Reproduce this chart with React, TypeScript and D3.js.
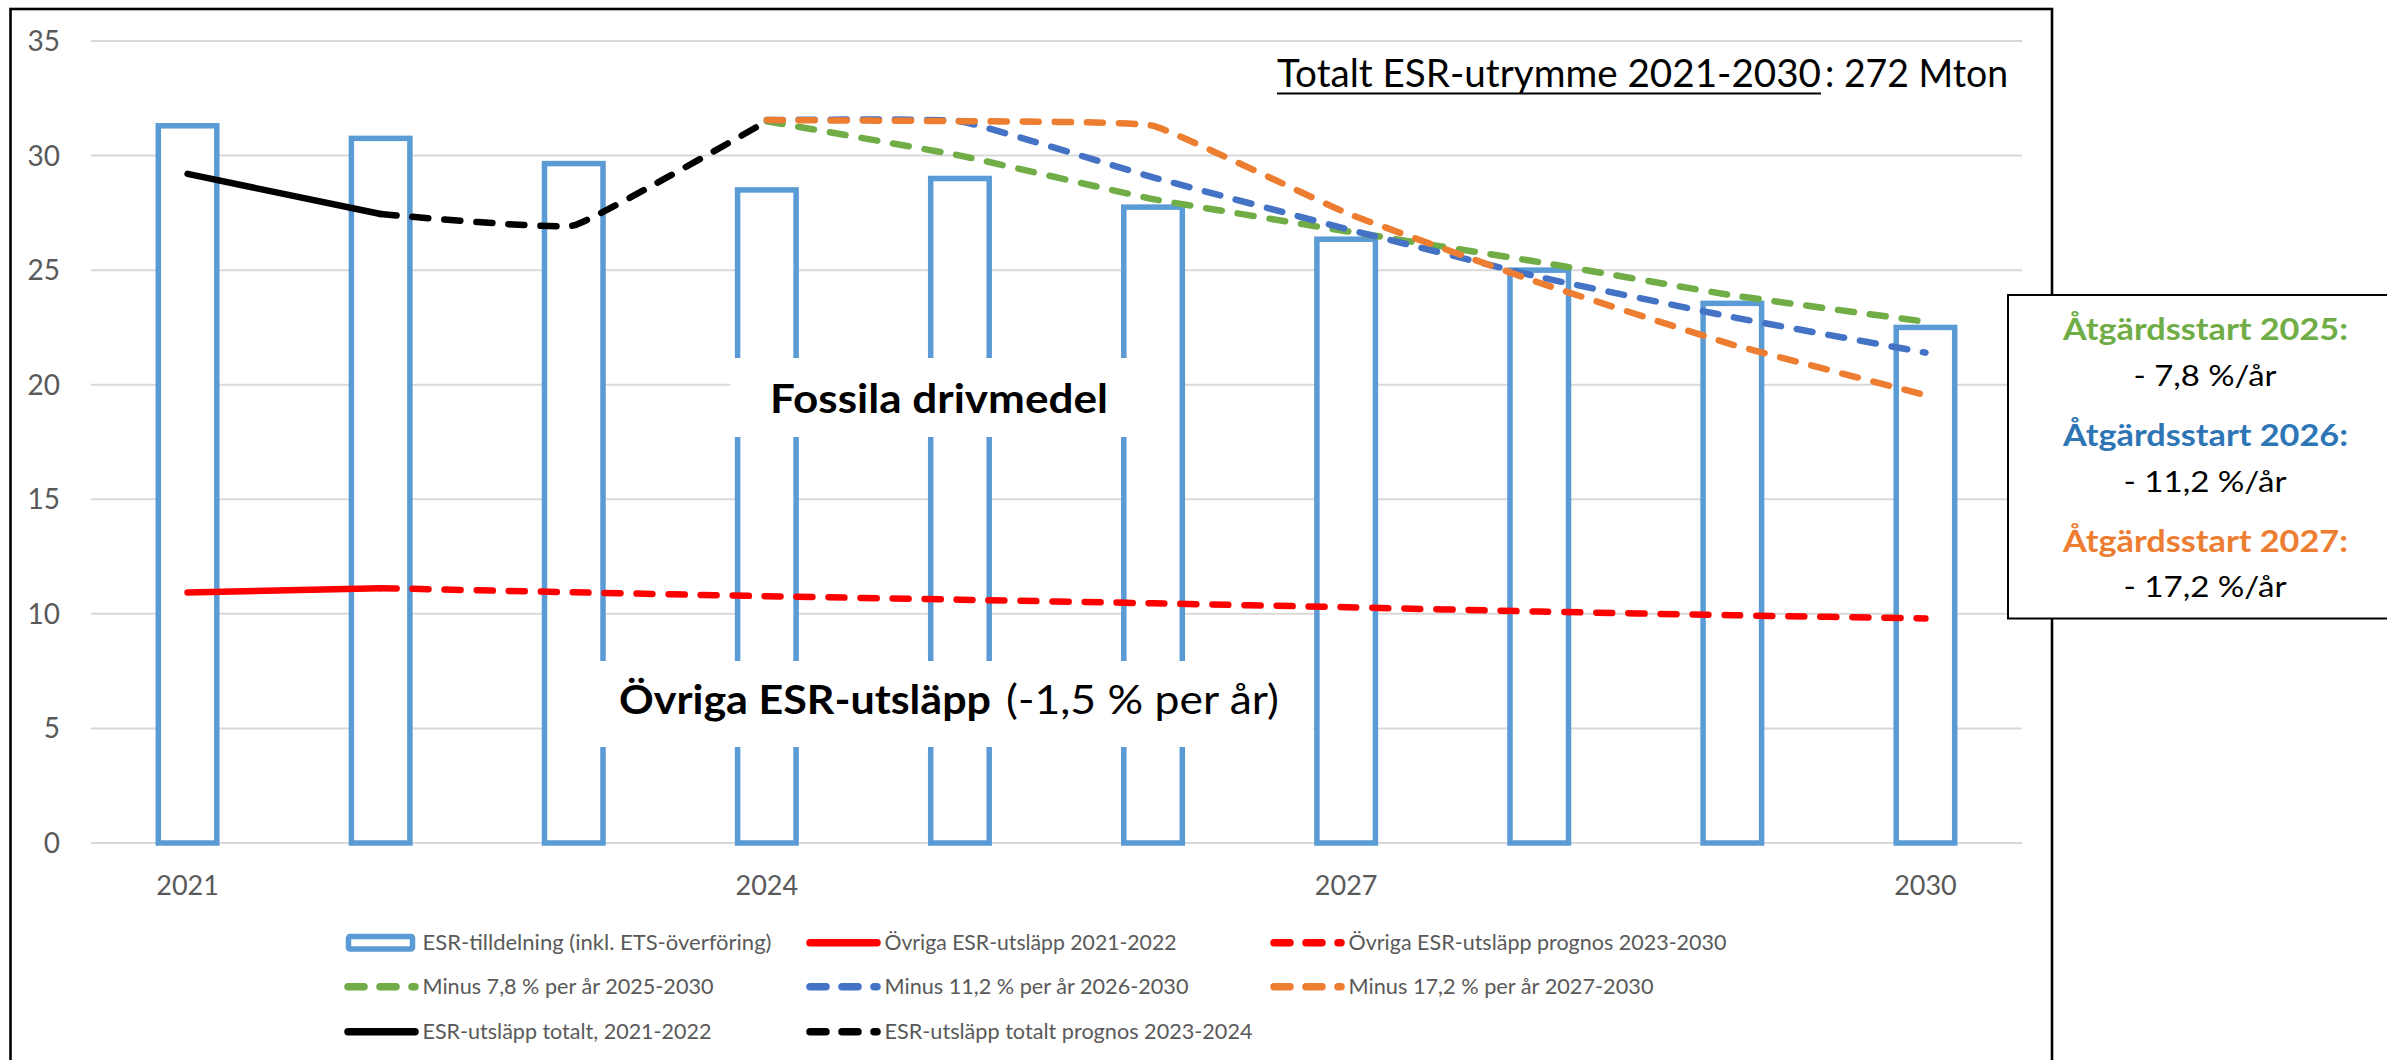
import React from "react";
import * as d3 from "d3";

// ---------- data ----------
const years = [2021, 2022, 2023, 2024, 2025, 2026, 2027, 2028, 2029, 2030];
const esrAllocation = [31.3, 30.75, 29.65, 28.5, 29.0, 27.75, 26.35, 25.0, 23.55, 22.5];

const otherActualYears = [2021, 2022];
const otherActual = [10.93, 11.12];
const otherForecastYears = [2022, 2023, 2024, 2025, 2026, 2027, 2028, 2029, 2030];
const otherForecast = [11.12, 10.94, 10.77, 10.62, 10.46, 10.29, 10.1, 9.94, 9.8];

const totalActualYears = [2021, 2022];
const totalActual = [29.2, 27.45];
const totalForecastYears = [2022, 2023, 2024];
const totalForecast = [27.45, 26.95, 31.5];

const pathYears = [2024, 2025, 2026, 2027, 2028, 2029, 2030];
const minus78 = [31.5, 30.0, 28.1, 26.7, 25.35, 23.9, 22.75];
const minus112 = [31.55, 31.5, 29.05, 26.8, 24.7, 22.95, 21.4];
const minus172 = [31.55, 31.5, 31.3, 27.5, 24.45, 21.75, 19.55];

const yTicks = [0, 5, 10, 15, 20, 25, 30, 35];
const xTickYears = [2021, 2024, 2027, 2030];

const legendLabels = [
  "ESR-tilldelning (inkl. ETS-överföring)",
  "Övriga ESR-utsläpp 2021-2022",
  "Övriga ESR-utsläpp prognos 2023-2030",
  "Minus 7,8 % per år 2025-2030",
  "Minus 11,2 % per år 2026-2030",
  "Minus 17,2 % per år 2027-2030",
  "ESR-utsläpp totalt, 2021-2022",
  "ESR-utsläpp totalt prognos 2023-2024",
];

const scenarioTitles = ["Åtgärdsstart 2025:", "Åtgärdsstart 2026:", "Åtgärdsstart 2027:"];
const scenarioRates = ["- 7,8 %/år", "- 11,2 %/år", "- 17,2 %/år"];

// ---------- styles / layout ----------
const W = 2387;
const H = 1060;
const FONT = "Lato, 'Open Sans', sans-serif";
const C_BAR = "#5B9BD5";
const C_RED = "#FF0000";
const C_GREEN = "#70AD47";
const C_BLUE = "#4472C4";
const C_ORANGE = "#ED7D31";
const C_TEXT = "#595959";
const DASH = "16 16";
const LW = 6.5;

const legendStyles = [
  { kind: "bar", color: C_BAR, dash: null },
  { kind: "line", color: C_RED, dash: null },
  { kind: "line", color: C_RED, dash: DASH },
  { kind: "line", color: C_GREEN, dash: DASH },
  { kind: "line", color: C_BLUE, dash: DASH },
  { kind: "line", color: C_ORANGE, dash: DASH },
  { kind: "line", color: "#000000", dash: null },
  { kind: "line", color: "#000000", dash: DASH },
];
const legendTextWidths = [349, 292, 378, 291, 304, 305, 289, 368];
const scenarioColors = [C_GREEN, "#2E75B6", C_ORANGE];

export default function App() {
  const x = d3
    .scaleBand<number>()
    .domain(years)
    .range([91, 2022])
    .paddingInner(0.697)
    .paddingOuter(0.3485);
  const y = d3.scaleLinear().domain([0, 35]).range([843, 41]);
  const xc = (yr: number) => (x(yr) as number) + x.bandwidth() / 2;

  const lineGen = d3
    .line<[number, number]>()
    .x((d) => xc(d[0]))
    .y((d) => y(d[1]))
    .curve(d3.curveCardinal.tension(0.7));

  const series = [
    { ys: otherActualYears, vs: otherActual, color: C_RED, dash: null },
    { ys: otherForecastYears, vs: otherForecast, color: C_RED, dash: DASH },
    { ys: pathYears, vs: minus78, color: C_GREEN, dash: DASH },
    { ys: pathYears, vs: minus112, color: C_BLUE, dash: DASH },
    { ys: pathYears, vs: minus172, color: C_ORANGE, dash: DASH },
    { ys: totalActualYears, vs: totalActual, color: "#000000", dash: null },
    { ys: totalForecastYears, vs: totalForecast, color: "#000000", dash: DASH },
  ];

  const legendColX = [345, 807, 1271];
  const legendRowY = [942.7, 986.7, 1031.7];

  return (
    <svg
      width={W}
      height={H}
      style={{ position: "absolute", left: 0, top: 0, display: "block", overflow: "hidden", background: "#fff" }}
      fontFamily={FONT}
    >
      <rect x={0} y={0} width={W} height={H} fill="#fff" />
      {/* chart border */}
      <rect x={10.5} y={9} width={2041.5} height={1070} fill="none" stroke="#000" strokeWidth={2.6} />

      {/* gridlines */}
      {yTicks.map((t) => (
        <line key={"g" + t} x1={91} x2={2022} y1={y(t)} y2={y(t)} stroke="#D9D9D9" strokeWidth={2} />
      ))}
      {/* y labels */}
      {yTicks.map((t) => (
        <text key={"yl" + t} x={60} y={y(t) + 10} textAnchor="end" fontSize={28} fill={C_TEXT}>
          {t}
        </text>
      ))}
      {/* x labels */}
      {xTickYears.map((yr) => (
        <text key={"xl" + yr} x={xc(yr)} y={895} textAnchor="middle" fontSize={27} fill={C_TEXT}>
          {yr}
        </text>
      ))}

      {/* bars */}
      {years.map((yr, i) => (
        <rect
          key={"b" + yr}
          x={x(yr)}
          y={y(esrAllocation[i])}
          width={x.bandwidth()}
          height={y(0) - y(esrAllocation[i])}
          fill="#fff"
          stroke={C_BAR}
          strokeWidth={5.5}
        />
      ))}

      {/* text boxes inside plot */}
      <rect x={730} y={358} width={420} height={79} fill="#fff" />
      <text x={770} y={412.7} fontSize={41} fontWeight={700} fill="#000" textLength={338} lengthAdjust="spacingAndGlyphs">
        Fossila drivmedel
      </text>
      <rect x={584} y={661} width={729} height={86} fill="#fff" />
      <text x={619} y={714} fontSize={40} fontWeight={700} fill="#000" textLength={372} lengthAdjust="spacingAndGlyphs">
        Övriga ESR-utsläpp
      </text>
      <text x={1006} y={714} fontSize={40} fill="#000" textLength={273} lengthAdjust="spacingAndGlyphs">
        (-1,5 % per år)
      </text>

      {/* lines */}
      {series.map((s, i) => (
        <path
          key={"s" + i}
          d={lineGen(d3.zip(s.ys, s.vs) as [number, number][]) || ""}
          fill="none"
          stroke={s.color}
          strokeWidth={LW}
          strokeLinecap="round"
          strokeLinejoin="round"
          strokeDasharray={s.dash || undefined}
        />
      ))}

      {/* total text */}
      <text x={1277} y={86.7} fontSize={38} fill="#000" textLength={544} lengthAdjust="spacingAndGlyphs">
        Totalt ESR-utrymme 2021-2030
      </text>
      <line x1={1277} x2={1821} y1={93.5} y2={93.5} stroke="#000" strokeWidth={2.2} />
      <text x={1825} y={86.7} fontSize={38} fill="#000" textLength={183} lengthAdjust="spacingAndGlyphs">
        : 272 Mton
      </text>

      {/* scenario box */}
      <rect x={2008} y={295} width={420} height={323.5} fill="#fff" stroke="#000" strokeWidth={2} />
      {scenarioTitles.map((t, i) => (
        <g key={"sc" + i}>
          <text
            x={2205.5}
            y={340 + i * 106}
            textAnchor="middle"
            fontSize={30}
            fontWeight={700}
            fill={scenarioColors[i]}
            textLength={285}
            lengthAdjust="spacingAndGlyphs"
          >
            {t}
          </text>
          <text
            x={2205}
            y={386 + i * 105.5}
            textAnchor="middle"
            fontSize={29}
            fill="#000"
            textLength={i === 0 ? 143 : 163}
            lengthAdjust="spacingAndGlyphs"
          >
            {scenarioRates[i]}
          </text>
        </g>
      ))}

      {/* legend */}
      {legendLabels.map((lab, i) => {
        const col = i % 3;
        const row = Math.floor(i / 3);
        const lx = legendColX[col];
        const ly = legendRowY[row];
        const st = legendStyles[i];
        return (
          <g key={"lg" + i}>
            {st.kind === "bar" ? (
              <rect x={lx + 3.5} y={ly - 6.2} width={64} height={12.5} rx={1.5} fill="#fff" stroke={st.color} strokeWidth={5.5} />
            ) : (
              <line
                x1={lx + 3}
                x2={lx + 70}
                y1={ly}
                y2={ly}
                stroke={st.color}
                strokeWidth={7.5}
                strokeLinecap="round"
                strokeDasharray={st.dash || undefined}
              />
            )}
            <text
              x={lx + 77.5}
              y={ly + 7.5}
              fontSize={21}
              fill={C_TEXT}
              textLength={legendTextWidths[i]}
              lengthAdjust="spacingAndGlyphs"
            >
              {lab}
            </text>
          </g>
        );
      })}
    </svg>
  );
}
